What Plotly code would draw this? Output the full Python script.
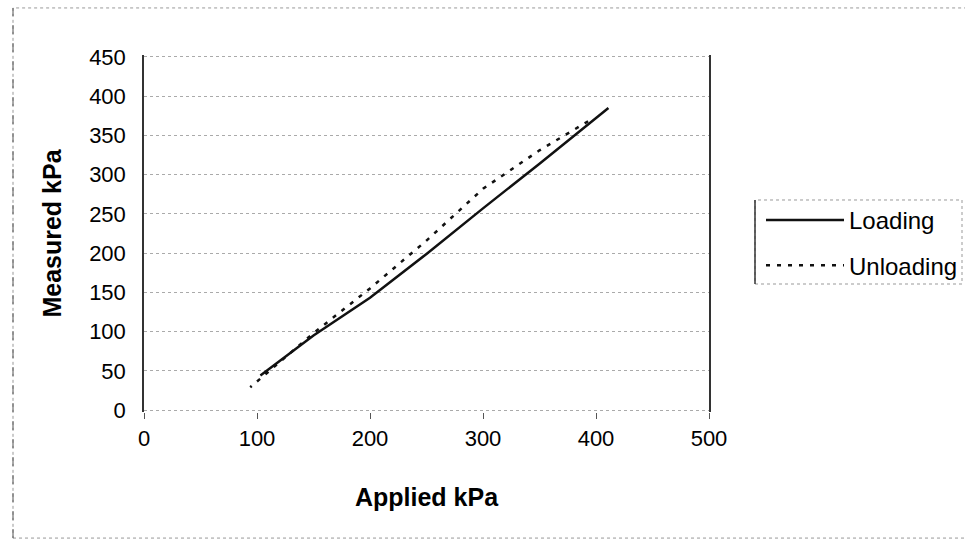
import plotly.graph_objects as go

# Data
loading_x = [103, 150, 200, 250, 300, 350, 411]
loading_y = [44, 95, 143, 199, 257, 314, 385]

unloading_x = [393, 350, 300, 250, 200, 150, 94]
unloading_y = [368, 331, 282, 216, 155, 98, 29]

x_ticks = [0, 100, 200, 300, 400, 500]
y_ticks = [0, 50, 100, 150, 200, 250, 300, 350, 400, 450]

FONT = "Liberation Sans, Arial, sans-serif"

# plot-area geometry helpers (pixels -> paper)
PX_L, PX_R = 144, 709
PY_0, PY_450 = 410, 57
UNIT = (PY_0 - PY_450) / 450.0
Y_LO, Y_HI = -2.5, 452.5
TOP = PY_450 - (Y_HI - 450) * UNIT
BOT = PY_0 + (0 - Y_LO) * UNIT


def px(x):
    return (x - PX_L) / (PX_R - PX_L)


def py(y):
    return (BOT - y) / (BOT - TOP)


fig = go.Figure()
fig.add_trace(go.Scatter(
    x=loading_x, y=loading_y, mode="lines", name="Loading",
    legendgroup="a",
    line=dict(color="#111111", width=2.5),
))
fig.add_trace(go.Scatter(
    x=unloading_x, y=unloading_y, mode="lines", name="Unloading",
    legendgroup="b",
    line=dict(color="#111111", width=2.5, dash="4px,7px"),
))

# outer chart border (scanned dotted frame)
fig.add_shape(type="rect", xref="paper", yref="paper",
              x0=px(13), x1=px(975), y0=py(538), y1=py(8),
              line=dict(color="#999999", width=1, dash="dot"),
              layer="below")
fig.add_shape(type="line", xref="paper", yref="paper",
              x0=px(13), x1=px(13), y0=py(538), y1=py(8),
              line=dict(color="#555555", width=1, dash="dash"),
              layer="below")
# legend frame
fig.add_shape(type="rect", xref="paper", yref="paper",
              x0=px(755), x1=px(962), y0=py(284), y1=py(200),
              line=dict(color="#999999", width=1, dash="dot"),
              layer="below")
fig.add_shape(type="line", xref="paper", yref="paper",
              x0=px(755), x1=px(755), y0=py(284), y1=py(200),
              line=dict(color="#333333", width=1.5),
              layer="below")

fig.update_layout(
    width=965, height=551,
    margin=dict(l=PX_L, r=965 - PX_R, t=TOP, b=551 - BOT, autoexpand=False),
    paper_bgcolor="white", plot_bgcolor="white",
    font=dict(family=FONT, size=22, color="black"),
    showlegend=True,
    legend=dict(
        x=px(761), y=py(198),
        xanchor="left", yanchor="top",
        font=dict(family=FONT, size=24, color="black"),
        borderwidth=0,
        bgcolor="rgba(0,0,0,0)",
        itemwidth=78,
        traceorder="grouped",
        tracegroupgap=11,
    ),
    xaxis=dict(
        range=[0, 500], tickvals=x_ticks, ticktext=[str(v) for v in x_ticks],
        showgrid=False, zeroline=False, showline=False,
        ticks="outside", ticklen=6, tickcolor="#555555",
        ticklabelstandoff=1,
        tickfont=dict(family=FONT, size=22, color="black"),
        title=dict(text="<b>Applied kPa</b>", standoff=38,
                   font=dict(family=FONT, size=25, color="black")),
    ),
    yaxis=dict(
        range=[Y_LO, Y_HI], tickvals=y_ticks, ticktext=[str(v) for v in y_ticks],
        showgrid=True, gridcolor="#aaaaaa", griddash="dot", gridwidth=1,
        zeroline=False, showline=True, linecolor="#333333", linewidth=1.5,
        mirror=True, ticks="",
        ticklabelstandoff=12,
        tickfont=dict(family=FONT, size=22, color="black"),
        title=dict(text="<b>Measured kPa</b>", standoff=20,
                   font=dict(family=FONT, size=25, color="black")),
    ),
)

fig.write_html("out.html")
